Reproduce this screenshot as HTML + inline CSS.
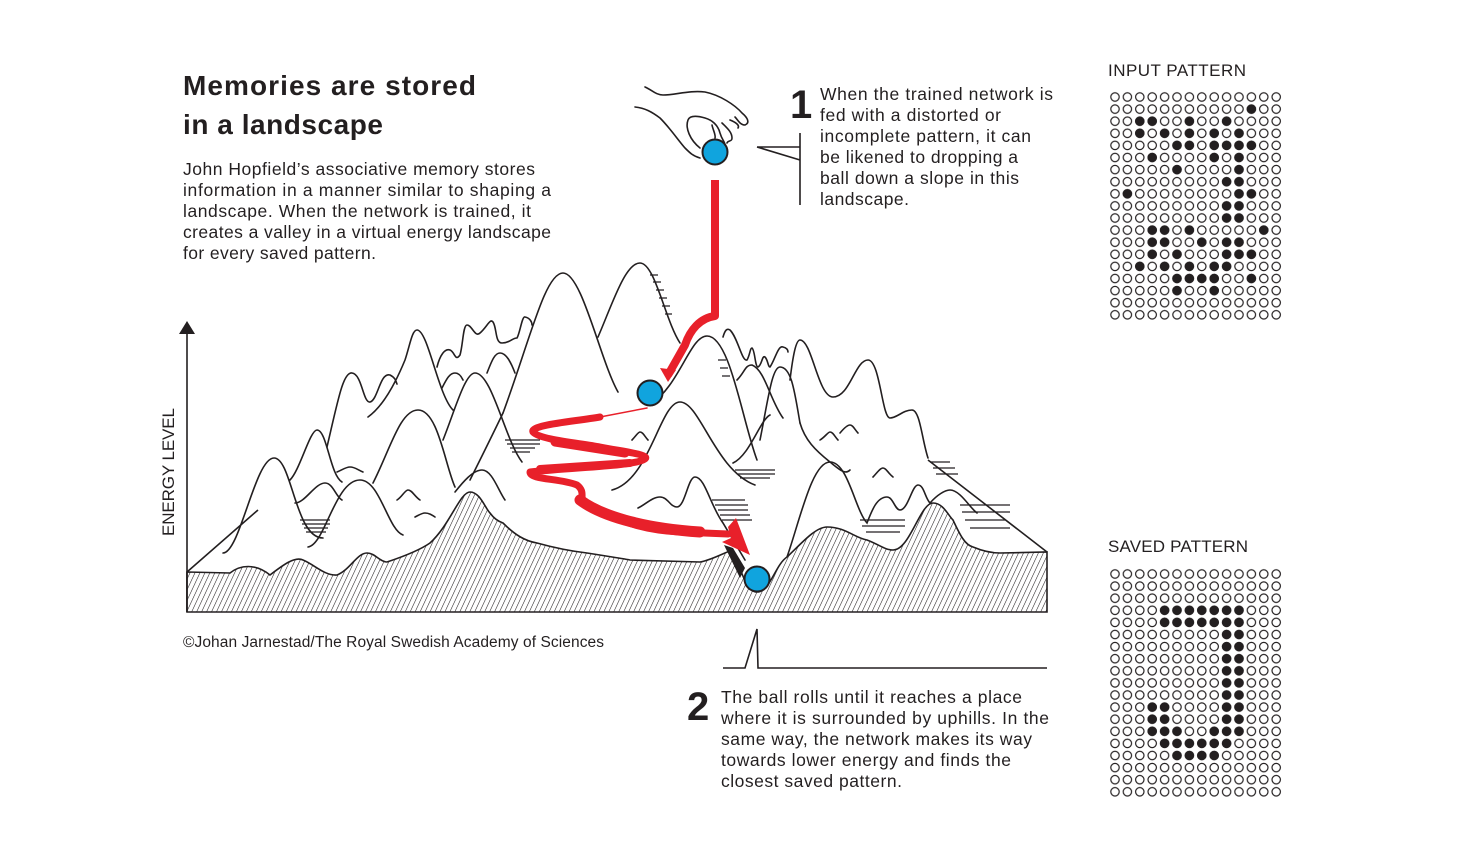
<!DOCTYPE html>
<html><head><meta charset="utf-8"><style>
html,body{margin:0;padding:0;background:#fff;}
svg{display:block;}
text{font-family:"Liberation Sans",sans-serif;fill:#231f20;}
</style></head><body>
<svg width="1472" height="851" viewBox="0 0 1472 851" xmlns="http://www.w3.org/2000/svg">
<defs>
<pattern id="hatch" width="4.5" height="4.5" patternUnits="userSpaceOnUse" patternTransform="rotate(25)">
<rect width="4.5" height="4.5" fill="#fff"/><line x1="0" y1="0" x2="0" y2="4.5" stroke="#231f20" stroke-width="1.1"/>
</pattern>
<pattern id="dots" x="1108.8" y="90.95" width="12.4" height="12.1" patternUnits="userSpaceOnUse">
<circle cx="6.2" cy="6.05" r="4.2" fill="none" stroke="#231f20" stroke-width="1.2"/>
</pattern>
<pattern id="dots2" x="1108.8" y="567.95" width="12.4" height="12.1" patternUnits="userSpaceOnUse">
<circle cx="6.2" cy="6.05" r="4.2" fill="none" stroke="#231f20" stroke-width="1.2"/>
</pattern>
</defs>

<text x="183" y="95" font-size="28" font-weight="bold" textLength="293">Memories are stored</text>
<text x="183" y="134" font-size="28" font-weight="bold" textLength="200">in a landscape</text>
<g font-size="17.5">
<text x="183" y="175" textLength="352">John Hopfield’s associative memory stores</text>
<text x="183" y="196" textLength="368">information in a manner similar to shaping a</text>
<text x="183" y="217" textLength="348">landscape. When the network is trained, it</text>
<text x="183" y="238" textLength="368">creates a valley in a virtual energy landscape</text>
<text x="183" y="259" textLength="193">for every saved pattern.</text>
</g>

<text x="790" y="118" font-size="40" font-weight="bold">1</text>
<g font-size="17.5">
<text x="820" y="100" textLength="233">When the trained network is</text>
<text x="820" y="121" textLength="181">fed with a distorted or</text>
<text x="820" y="142" textLength="211">incomplete pattern, it can</text>
<text x="820" y="163" textLength="198">be likened to dropping a</text>
<text x="820" y="184" textLength="199">ball down a slope in this</text>
<text x="820" y="205" textLength="89">landscape.</text>
</g>
<path d="M800,133 V205 M757,147 H800 M757,147 L800,160" stroke="#231f20" stroke-width="1.6" fill="none"/>

<text x="687" y="720" font-size="40" font-weight="bold">2</text>
<g font-size="17.5">
<text x="721" y="703" textLength="301">The ball rolls until it reaches a place</text>
<text x="721" y="724" textLength="328">where it is surrounded by uphills. In the</text>
<text x="721" y="745" textLength="311">same way, the network makes its way</text>
<text x="721" y="766" textLength="290">towards lower energy and finds the</text>
<text x="721" y="787" textLength="181">closest saved pattern.</text>
</g>
<path d="M723,668 H745 L757,629 L758,668 H1047" stroke="#231f20" stroke-width="1.6" fill="none"/>

<text x="183" y="647" font-size="15.5" textLength="421">©Johan Jarnestad/The Royal Swedish Academy of Sciences</text>

<path d="M187,612 V333" stroke="#231f20" stroke-width="1.6"/>
<path d="M179,334 L195,334 L187,321 Z" fill="#231f20"/>
<text transform="translate(174,536) rotate(-90)" font-size="17" textLength="128">ENERGY LEVEL</text>

<path d="M187,572 L258,510 M1047,552 L928,460" stroke="#231f20" stroke-width="1.6" fill="none"/>

<g stroke="#231f20" stroke-width="1.6" fill="none" stroke-linecap="round">
<path d="M503,413 C530,340 545,273 563,273 C582,273 600,360 618,392"/>
<path d="M598,337 C612,305 625,263 640,263 C655,263 665,320 680,343"/>
<path d="M650,405 C680,385 690,336 707,336 C730,336 742,420 757,460"/>
<path d="M327,447 C338,400 343,372 352,373 C362,374 363,403 370,402 C378,400 380,372 390,375 C396,378 396,382 397,384"/>
<path d="M368,417 C385,405 398,377 405,360 C410,345 412,330 417,330 C428,330 438,395 453,410"/>
<path d="M437,367 C440,355 445,348 450,350 C455,352 455,362 460,355 C463,345 463,325 467,325 C472,325 475,338 480,333 C487,327 490,318 493,322 C497,328 495,343 502,343 C510,343 512,338 517,338 C520,333 522,316 525,317 C530,318 532,322 532,325"/>
<path d="M442,388 C447,378 450,373 455,373 C460,373 462,378 463,380"/>
<path d="M487,373 C492,360 495,353 500,353 C507,353 512,365 515,373"/>
<path d="M443,440 C455,410 465,373 475,373 C492,373 505,440 522,462"/>
<path d="M373,483 C390,450 400,410 418,410 C438,410 445,465 455,487"/>
<path d="M290,480 C300,470 310,430 317,430 C327,430 330,475 342,482"/>
<path d="M295,503 C305,503 315,483 325,483 C333,483 336,497 342,500"/>
<path d="M308,547 C325,545 335,480 360,480 C380,480 388,530 403,535"/>
<path d="M223,553 C240,553 255,458 274,458 C292,458 295,538 323,538"/>
<path d="M337,472 C342,470 346,467 350,467 C355,467 358,470 363,472"/>
<path d="M397,500 C402,497 405,490 408,490 C412,490 415,497 420,500"/>
<path d="M415,517 C419,515 422,513 425,513 C429,513 432,515 435,517"/>
<path d="M455,492 C463,482 473,470 482,470 C492,470 498,490 505,500"/>
<path d="M503,413 C490,440 475,470 470,480"/>
<path d="M723,337 C725,330 727,328 730,330 C738,338 742,362 747,360 C750,355 750,348 752,348 C755,350 755,367 758,367 C762,365 762,355 765,357 C768,360 768,367 770,367 C775,360 778,345 783,347 C787,348 788,350 788,352"/>
<path d="M737,380 C745,372 745,365 752,365 C765,370 770,400 783,418"/>
<path d="M760,440 C768,400 772,367 780,367 C792,367 795,395 800,423"/>
<path d="M790,380 C793,355 796,340 800,340 C812,340 818,397 833,397 C850,397 855,360 868,360 C880,360 882,418 890,418 C897,418 903,410 912,410 C920,410 922,440 928,458"/>
<path d="M733,463 C750,455 760,420 770,415"/>
<path d="M800,423 C805,440 815,450 830,462 C840,470 845,475 850,470"/>
<path d="M612,490 C650,480 660,402 680,402 C700,402 715,470 755,485"/>
<path d="M638,508 C645,505 652,497 660,497 C668,497 670,507 677,507 C685,507 688,477 695,477 C705,477 710,505 723,523 L745,560"/>
<path d="M787,557 C800,520 812,462 830,462 C848,462 855,510 867,523 C872,510 877,497 887,497 C893,497 895,510 900,510 C908,510 912,485 918,485 C924,485 925,498 930,503 C937,495 945,490 950,490 C960,490 970,508 977,513"/>
<path d="M820,440 C825,437 828,432 830,432 C833,432 835,437 838,440 M840,433 C845,427 848,425 850,425 C853,425 855,430 858,433"/>
<path d="M873,477 C877,473 880,468 883,468 C886,468 888,473 893,477"/>
<path d="M632,440 C636,436 638,432 640,432 C643,432 645,437 648,440"/>
</g>
<g stroke="#231f20" stroke-width="1.2">
<path d="M300,520 H330 M302,524 H330 M304,528 H328 M306,532 H326"/>
<path d="M505,440 H540 M507,444 H540 M510,448 H535 M512,452 H530"/>
<path d="M735,470 H775 M738,474 H775 M740,478 H770"/>
<path d="M712,500 H745 M715,505 H748 M718,510 H748 M720,515 H750 M722,520 H752"/>
<path d="M860,520 H905 M862,526 H905 M866,532 H900"/>
<path d="M960,505 H1010 M962,512 H1010 M965,520 H1005 M970,528 H1010"/>
<path d="M930,462 H950 M933,468 H955 M936,474 H958"/>
<path d="M650,275 H658 M653,282 H661 M656,290 H664 M659,298 H667 M662,306 H670 M665,314 H672"/>
<path d="M718,360 H726 M720,368 H728 M722,376 H730"/>
</g>

<path d="M187,572 L230,573 C240,565 255,563 270,575 C283,565 295,556 303,560 C315,565 325,576 337,575 C350,570 357,553 367,553 C375,553 380,562 387,562 C405,556 420,550 430,543 C450,525 460,492 470,492 C480,492 485,508 490,513 C495,520 500,522 503,523 C515,535 525,541 537,543 C555,548 570,551 587,553 C605,556 620,558 630,560 L700,562 C712,560 725,552 733,550 C740,565 745,592 757,592 C770,592 775,565 787,557 C800,545 815,527 827,527 C845,527 855,538 867,540 C880,545 885,550 893,550 C910,550 920,503 933,503 C943,503 948,515 953,520 C960,535 965,545 973,547 C985,552 995,553 1000,553 L1047,552 L1047,612 L187,612 Z" fill="url(#hatch)" stroke="#231f20" stroke-width="1.6"/>
<path d="M187,572 V612" stroke="#231f20" stroke-width="1.6"/>

<g fill="none" stroke="#e8202a" stroke-linecap="round" stroke-linejoin="round">
<path d="M715,180 V316 C700,318 690,330 685,345 L668,375" stroke-width="8" stroke-linecap="butt"/>
<path d="M647,408 L600,417" stroke-width="1.5"/>
<path d="M600,417 C570,422 530,425 533,432 C540,440 580,443 600,447 C625,452 655,455 643,460 C630,466 580,467 530,472 C530,480 560,478 577,485 C590,495 570,503 600,512 C620,520 640,530 680,532 L728,534" stroke-width="7"/>
<path d="M555,442 C580,446 600,449 625,453" stroke-width="9"/>
<path d="M540,469 C570,467 600,465 630,463" stroke-width="8"/>
<path d="M580,500 C600,515 640,528 700,532" stroke-width="11"/>
</g>
<path d="M668,382 L660,368 L676,370 Z" fill="#e8202a"/>
<path d="M728,527 L736,518 L750,555 L722,542 L731,538 Z" fill="#e8202a"/>
<path d="M724,545 L733,548 L745,568 L740,578 Z" fill="#231f20"/>

<circle cx="650" cy="393" r="12.5" fill="#10a4de" stroke="#231f20" stroke-width="2"/>
<circle cx="757" cy="579" r="12.5" fill="#10a4de" stroke="#231f20" stroke-width="2"/>
<circle cx="715" cy="152" r="12.5" fill="#10a4de" stroke="#231f20" stroke-width="2"/>

<g fill="none" stroke="#231f20" stroke-width="1.6" stroke-linejoin="round" stroke-linecap="round">
<path d="M645,87 C652,90 656,95 663,95 C675,95 690,90 705,92 C720,95 735,105 742,113 C748,118 750,123 745,125 C740,125 738,120 735,117"/>
<path d="M635,107 C645,108 652,112 660,118 C670,128 678,140 685,148 C690,153 693,156 700,158"/>
<path d="M700,148 C690,140 685,128 688,120 C690,115 698,116 705,118 C712,120 718,125 720,133 C722,140 725,142 725,145"/>
<path d="M712,125 C713,130 716,135 715,138 M722,123 C727,128 732,132 732,138 C732,142 728,140 727,143"/>
<path d="M730,120 C735,122 740,125 738,128"/>
</g>

<text x="1108" y="76" font-size="17" textLength="138">INPUT PATTERN</text>
<text x="1108" y="552" font-size="17" textLength="140">SAVED PATTERN</text>
<rect x="1108.8" y="90.95" width="173.6" height="229.9" fill="url(#dots)"/>
<rect x="1108.8" y="567.95" width="173.6" height="229.9" fill="url(#dots2)"/>
<g transform="translate(1115,97) scale(12.4,12.1)" fill="#231f20">
<circle cx="11" cy="1" r=".38"/>
<circle cx="2" cy="2" r=".38"/><circle cx="3" cy="2" r=".38"/><circle cx="6" cy="2" r=".38"/><circle cx="9" cy="2" r=".38"/>
<circle cx="2" cy="3" r=".38"/><circle cx="4" cy="3" r=".38"/><circle cx="6" cy="3" r=".38"/><circle cx="8" cy="3" r=".38"/><circle cx="10" cy="3" r=".38"/>
<circle cx="5" cy="4" r=".38"/><circle cx="6" cy="4" r=".38"/><circle cx="8" cy="4" r=".38"/><circle cx="9" cy="4" r=".38"/><circle cx="10" cy="4" r=".38"/><circle cx="11" cy="4" r=".38"/>
<circle cx="3" cy="5" r=".38"/><circle cx="8" cy="5" r=".38"/><circle cx="10" cy="5" r=".38"/>
<circle cx="5" cy="6" r=".38"/><circle cx="10" cy="6" r=".38"/>
<circle cx="9" cy="7" r=".38"/><circle cx="10" cy="7" r=".38"/>
<circle cx="1" cy="8" r=".38"/><circle cx="10" cy="8" r=".38"/><circle cx="11" cy="8" r=".38"/>
<circle cx="9" cy="9" r=".38"/><circle cx="10" cy="9" r=".38"/>
<circle cx="9" cy="10" r=".38"/><circle cx="10" cy="10" r=".38"/>
<circle cx="3" cy="11" r=".38"/><circle cx="4" cy="11" r=".38"/><circle cx="6" cy="11" r=".38"/><circle cx="12" cy="11" r=".38"/>
<circle cx="3" cy="12" r=".38"/><circle cx="4" cy="12" r=".38"/><circle cx="7" cy="12" r=".38"/><circle cx="9" cy="12" r=".38"/><circle cx="10" cy="12" r=".38"/>
<circle cx="3" cy="13" r=".38"/><circle cx="5" cy="13" r=".38"/><circle cx="9" cy="13" r=".38"/><circle cx="10" cy="13" r=".38"/><circle cx="11" cy="13" r=".38"/>
<circle cx="2" cy="14" r=".38"/><circle cx="4" cy="14" r=".38"/><circle cx="6" cy="14" r=".38"/><circle cx="8" cy="14" r=".38"/><circle cx="9" cy="14" r=".38"/>
<circle cx="5" cy="15" r=".38"/><circle cx="6" cy="15" r=".38"/><circle cx="7" cy="15" r=".38"/><circle cx="8" cy="15" r=".38"/><circle cx="11" cy="15" r=".38"/>
<circle cx="5" cy="16" r=".38"/><circle cx="8" cy="16" r=".38"/>
</g>
<g transform="translate(1115,574) scale(12.4,12.1)" fill="#231f20">
<circle cx="4" cy="3" r=".38"/><circle cx="5" cy="3" r=".38"/><circle cx="6" cy="3" r=".38"/><circle cx="7" cy="3" r=".38"/><circle cx="8" cy="3" r=".38"/><circle cx="9" cy="3" r=".38"/><circle cx="10" cy="3" r=".38"/>
<circle cx="4" cy="4" r=".38"/><circle cx="5" cy="4" r=".38"/><circle cx="6" cy="4" r=".38"/><circle cx="7" cy="4" r=".38"/><circle cx="8" cy="4" r=".38"/><circle cx="9" cy="4" r=".38"/><circle cx="10" cy="4" r=".38"/>
<circle cx="9" cy="5" r=".38"/><circle cx="10" cy="5" r=".38"/>
<circle cx="9" cy="6" r=".38"/><circle cx="10" cy="6" r=".38"/>
<circle cx="9" cy="7" r=".38"/><circle cx="10" cy="7" r=".38"/>
<circle cx="9" cy="8" r=".38"/><circle cx="10" cy="8" r=".38"/>
<circle cx="9" cy="9" r=".38"/><circle cx="10" cy="9" r=".38"/>
<circle cx="9" cy="10" r=".38"/><circle cx="10" cy="10" r=".38"/>
<circle cx="3" cy="11" r=".38"/><circle cx="4" cy="11" r=".38"/><circle cx="9" cy="11" r=".38"/><circle cx="10" cy="11" r=".38"/>
<circle cx="3" cy="12" r=".38"/><circle cx="4" cy="12" r=".38"/><circle cx="9" cy="12" r=".38"/><circle cx="10" cy="12" r=".38"/>
<circle cx="3" cy="13" r=".38"/><circle cx="4" cy="13" r=".38"/><circle cx="5" cy="13" r=".38"/><circle cx="8" cy="13" r=".38"/><circle cx="9" cy="13" r=".38"/><circle cx="10" cy="13" r=".38"/>
<circle cx="4" cy="14" r=".38"/><circle cx="5" cy="14" r=".38"/><circle cx="6" cy="14" r=".38"/><circle cx="7" cy="14" r=".38"/><circle cx="8" cy="14" r=".38"/><circle cx="9" cy="14" r=".38"/>
<circle cx="5" cy="15" r=".38"/><circle cx="6" cy="15" r=".38"/><circle cx="7" cy="15" r=".38"/><circle cx="8" cy="15" r=".38"/>
</g>
</svg>
</body></html>
